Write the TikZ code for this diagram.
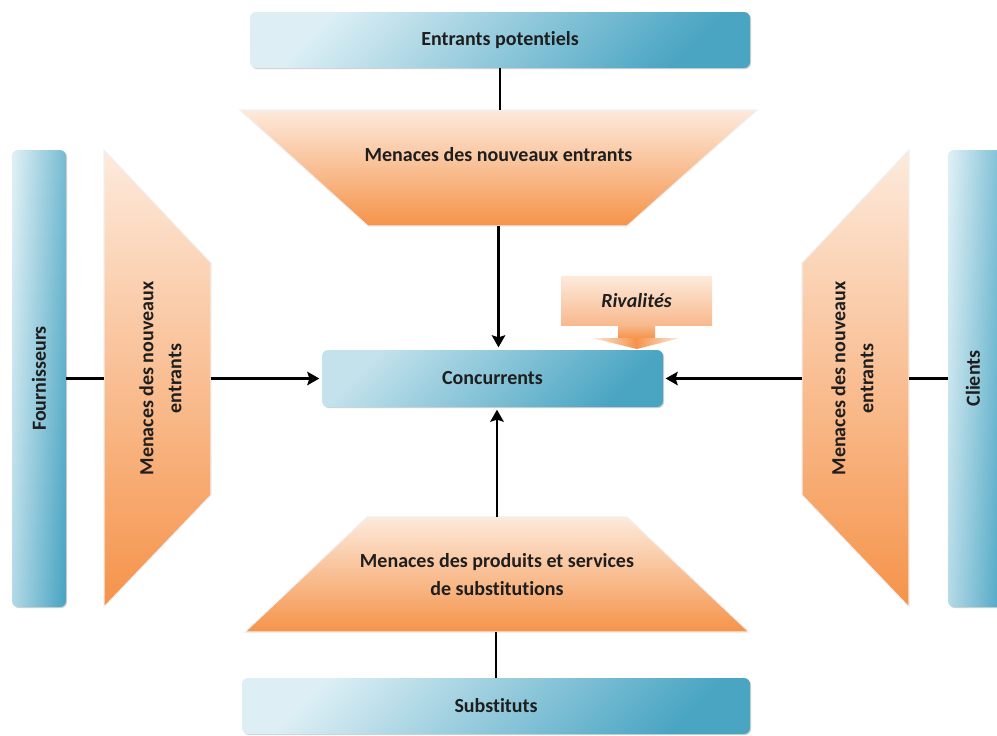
\documentclass[tikz,border=0pt]{standalone}
\usepackage{fontspec}
\setmainfont{Carlito}[Ligatures=NoCommon]
\usetikzlibrary{arrows.meta,fit,shadows}
\definecolor{bluL}{HTML}{DDEFF5}
\definecolor{bluM}{HTML}{C3E2EC}
\definecolor{bluD}{HTML}{4AA5C3}
\definecolor{orL}{HTML}{FDEADC}
\definecolor{orM}{HTML}{F8B98D}
\definecolor{orD}{HTML}{F5934A}
\definecolor{ink}{HTML}{1E1E1E}
\begin{document}
\begin{tikzpicture}[x=0.75pt,y=-0.75pt,
  txt/.style={font=\bfseries\fontsize{15}{21}\selectfont, text=ink, align=center, inner sep=0pt},
  bluebox/.style={inner sep=0pt, outer sep=0pt, rounded corners=4.5pt,
    top color=bluL, bottom color=bluD, shading angle=45,
    drop shadow={shadow xshift=0.8pt, shadow yshift=-0.8pt, opacity=.18, fill=black}},
  bluepillar/.style={bluebox, left color=bluL, right color=bluD, shading angle=87},
  zone/.style={inner sep=0pt, outer sep=0pt},
  threat/.style={top color=orL, bottom color=orD, draw=black!6, line width=0.8pt},
  link/.style={line width=2.1pt, draw=black},
  push/.style={link, -{Stealth[length=9pt,width=10pt,inset=1.5pt]}, shorten >=2pt}
]
\clip (0,0) rectangle (997,736);
\useasboundingbox (0,0) rectangle (997,736);

% outer actors
\node[bluebox, fit={(250,12)(750,68)}] (ent) {};
\node[txt] (entT) at (ent.center) {Entrants potentiels};
\node[bluebox, fit={(242,678)(750,734)}] (sub) {};
\node[txt] (subT) at (sub.center) {Substituts};
\node[bluepillar, fit={(12,150)(66,607)}] (four) {};
\node[txt, rotate=90] (fourT) at (four.center) {Fournisseurs};
\node[bluepillar, fit={(948,150)(1006,607)}] (cli) {};
\node[txt, rotate=90] (cliT) at ([xshift=-3pt]cli.center) {Clients};

% central competitors
\node[bluebox, top color=bluM, bottom color=bluD, shading angle=45, fit={(322,350)(663,407)}] (conc) {};
\node[txt] (concT) at (conc.center) {Concurrents};

% threat zones
\path[threat] (240,110) -- (757,110) -- (627,226) -- (368,226) -- cycle;
\node[zone, fit={(240,110)(757,226)}] (mtop) {};
\node[txt] (mtopT) at ([yshift=9.75pt]mtop.center) {Menaces des nouveaux entrants};

\path[threat] (367,517) -- (627,517) -- (749,632) -- (245,632) -- cycle;
\node[zone, fit={(245,517)(749,632)}] (mbot) {};
\node[txt] (mbotT) at (mbot.center) {Menaces des produits et services\\de substitutions};

\path[threat] (104,150) -- (211,263) -- (211,495) -- (104,607) -- cycle;
\node[zone, fit={(104,150)(211,607)}] (mleft) {};
\node[txt, rotate=90] (mleftT) at ([xshift=2.25pt]mleft.center) {Menaces des nouveaux\\entrants};

\path[threat] (909,150) -- (802,263) -- (802,495) -- (909,607) -- cycle;
\node[zone, fit={(802,150)(909,607)}] (mright) {};
\node[txt, rotate=90] (mrightT) at ([xshift=-2.25pt]mright.center) {Menaces des nouveaux\\entrants};

% rivalry callout
\node[zone, top color=orL, bottom color=orM, fit={(561,276)(712,325)}] (riv) {};
\node[txt, font=\bfseries\itshape\fontsize{15}{21}\selectfont] (rivT) at (riv.center) {Rivalités};
\path[top color=orM, bottom color=orD] (618,324.5) rectangle (655,338.5);
\coordinate (rivtip) at (637,349);
\path[left color=orL, right color=orL, middle color=orD] (592,338) -- (680,338) -- (rivtip) -- cycle;

% links and pressures
\draw[link] (ent.south) -- (ent.south |- mtop.north);
\draw[push] (mtop.south) -- (mtop.south |- conc.north);
\draw[link] (sub.north) -- (sub.north |- mbot.south);
\draw[push] (mbot.north) -- (mbot.north |- conc.south);
\draw[link] (four.east) -- (mleft.west);
\draw[push] (mleft.east) -- (conc.west);
\draw[link] (cli.west) -- (mright.east);
\draw[push] (mright.west) -- (conc.east);
\end{tikzpicture}
\end{document}
